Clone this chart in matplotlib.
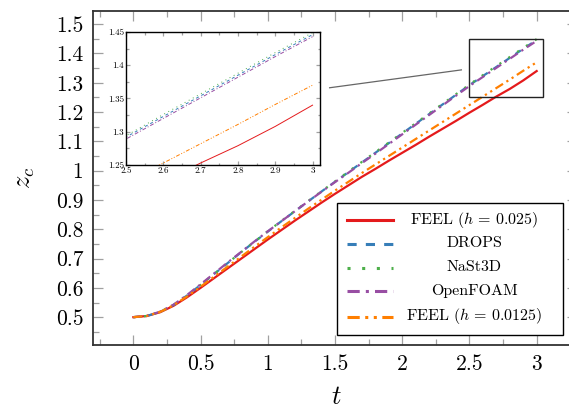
import matplotlib
matplotlib.use("Agg")
import matplotlib.pyplot as plt
from matplotlib.lines import Line2D
from matplotlib.patches import Rectangle
from matplotlib.ticker import MultipleLocator, FuncFormatter

plt.rcParams['font.family'] = 'cmr10'
plt.rcParams['mathtext.fontset'] = 'cm'
plt.rcParams['axes.unicode_minus'] = False
plt.rcParams['axes.formatter.use_mathtext'] = True

# time samples
t = [0.0, 0.1, 0.2, 0.3, 0.4, 0.5, 0.6, 0.7, 0.8, 0.9, 1.0,
     1.1, 1.2, 1.3, 1.4, 1.5, 1.6, 1.7, 1.8, 1.9, 2.0,
     2.1, 2.2, 2.3, 2.4, 2.5, 2.6, 2.7, 2.8, 2.9, 3.0]

# centroid height z_c
feel_025 = [0.500, 0.504, 0.517, 0.539, 0.568, 0.600, 0.633, 0.666, 0.699, 0.732, 0.765,
            0.797, 0.829, 0.860, 0.891, 0.921, 0.950, 0.979, 1.006, 1.034, 1.061,
            1.088, 1.116, 1.143, 1.170, 1.198, 1.225, 1.253, 1.279, 1.308, 1.340]
drops = [0.500, 0.504, 0.518, 0.542, 0.574, 0.610, 0.647, 0.684, 0.721, 0.757, 0.792,
         0.827, 0.861, 0.895, 0.929, 0.962, 0.995, 1.028, 1.061, 1.094, 1.127,
         1.160, 1.193, 1.226, 1.259, 1.292, 1.323, 1.354, 1.385, 1.416, 1.446]
nast3d = [0.500, 0.504, 0.518, 0.542, 0.574, 0.610, 0.647, 0.684, 0.721, 0.757, 0.793,
          0.828, 0.862, 0.896, 0.930, 0.963, 0.997, 1.030, 1.063, 1.096, 1.129,
          1.162, 1.195, 1.228, 1.261, 1.294, 1.326, 1.357, 1.388, 1.419, 1.449]
openfoam = [0.500, 0.504, 0.519, 0.543, 0.576, 0.612, 0.649, 0.686, 0.722, 0.758, 0.793,
            0.827, 0.861, 0.895, 0.928, 0.961, 0.993, 1.026, 1.058, 1.091, 1.124,
            1.157, 1.190, 1.223, 1.256, 1.289, 1.320, 1.351, 1.382, 1.413, 1.443]
feel_0125 = [0.500, 0.504, 0.518, 0.541, 0.571, 0.604, 0.638, 0.672, 0.706, 0.740, 0.773,
             0.806, 0.838, 0.870, 0.901, 0.932, 0.962, 0.992, 1.021, 1.050, 1.079,
             1.108, 1.137, 1.166, 1.195, 1.224, 1.253, 1.282, 1.311, 1.341, 1.370]

labels = [r'FEEL ($h\,=\,0.025$)', 'DROPS', 'NaSt3D', 'OpenFOAM', r'FEEL ($h\,=\,0.0125$)']
colors = ['#e41a1c', '#377eb8', '#4daf4a', '#984ea3', '#ff7f00']
dashes = [None, (3, 3), (1, 3.8), (4, 2, 1, 2), (4, 1.8, 1, 1.8, 1, 1.8)]
series = [feel_025, drops, nast3d, openfoam, feel_0125]

fmt = FuncFormatter(lambda v, p: '%g' % round(v, 4))


def style_ticks(ax, major, minor, pad, size):
    for side in ('top', 'bottom', 'left', 'right'):
        ax.spines[side].set_color('#333333')
    ax.tick_params(which='both', direction='in', top=True, right=True,
                   color='#a0a0a0', width=0.9)
    ax.tick_params(which='major', length=major, pad=pad, labelsize=size)
    ax.tick_params(which='minor', length=minor)
    ax.xaxis.set_major_formatter(fmt)
    ax.yaxis.set_major_formatter(fmt)


fig = plt.figure(figsize=(5.69, 4.12), dpi=100)
ax = fig.add_axes([93 / 569, 1 - 345 / 412, 484 / 569, 334 / 412])

for ys, c, d in zip(series, colors, dashes):
    line, = ax.plot(t, ys, color=c, lw=1.6)
    if d is not None:
        line.set_dashes(d)

ax.set_xlim(-0.3, 3.3)
ax.set_ylim(0.405, 1.545)
ax.xaxis.set_major_locator(MultipleLocator(0.5))
ax.xaxis.set_minor_locator(MultipleLocator(0.25))
ax.yaxis.set_major_locator(MultipleLocator(0.1))
ax.yaxis.set_minor_locator(MultipleLocator(0.05))
style_ticks(ax, 7.5, 4, 7, 15.5)
for s in ax.spines.values():
    s.set_linewidth(1.3)

ax.set_xlabel(r'$t$', fontsize=19)
ax.xaxis.label.set_va('center')
ax.xaxis.set_label_coords(0.5035, -0.155)
ax.set_ylabel(r'$z_c$', fontsize=19)
ax.yaxis.label.set_va('center')
ax.yaxis.set_label_coords(-0.14, 0.5)

# zoom box and connector
ax.add_patch(Rectangle((2.5, 1.25), 0.55, 0.2, fill=False, ec='#222222', lw=1.0, zorder=5))
ax.plot([1.46, 2.44], [1.283, 1.344], color='#666666', lw=0.9)

# inset
ins = fig.add_axes([126 / 569, 1 - 165 / 412, 194 / 569, 133 / 412])
for ys, c, d in zip(series, colors, dashes):
    line, = ins.plot(t, ys, color=c, lw=0.7)
    if d is not None:
        line.set_dashes(d)
ins.set_xlim(2.5, 3.02)
ins.set_ylim(1.25, 1.45)
ins.xaxis.set_major_locator(MultipleLocator(0.1))
ins.xaxis.set_minor_locator(MultipleLocator(0.05))
ins.yaxis.set_major_locator(MultipleLocator(0.05))
ins.yaxis.set_minor_locator(MultipleLocator(0.025))
style_ticks(ins, 3, 1.8, 1.5, 6.5)
for s in ins.spines.values():
    s.set_linewidth(1.0)
    s.set_color('black')

# legend box drawn in figure pixel units
W, H = 569.0, 412.0
fig.patches.append(Rectangle((337 / W, 1 - 335 / H), 226 / W, 132 / H, transform=fig.transFigure,
                             fc='white', ec='black', lw=1.0, zorder=10))
rows = [220, 243.5, 267.5, 291, 316.5]
for yy, lab, c, d in zip(rows, labels, colors, dashes):
    ln = Line2D([347 / W, 393 / W], [1 - yy / H, 1 - yy / H], transform=fig.transFigure,
                color=c, lw=2.2, zorder=11)
    if d is not None:
        ln.set_dashes(d)
    fig.lines.append(ln)
    fig.text(474 / W, 1 - yy / H, lab, ha='center', va='center', fontsize=11.5, zorder=11)

fig.savefig('out.png', dpi=100)
